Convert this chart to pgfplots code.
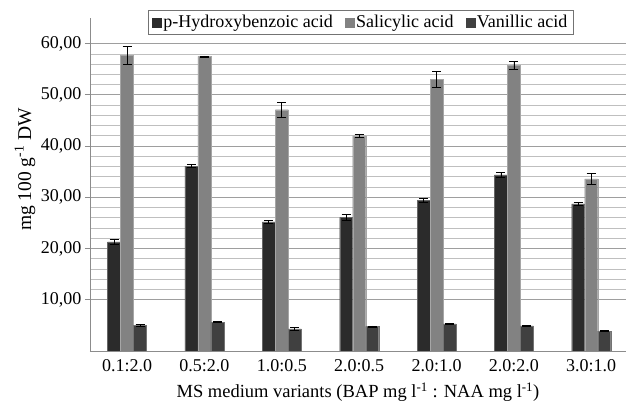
\documentclass[border=0pt]{standalone}
\usepackage{pgfplots}
\usepackage{pgfplotstable}
\pgfplotsset{compat=1.18}
\usepackage{fontspec}
\setmainfont{Liberation Serif}
\definecolor{cP}{HTML}{2B2B2B}
\definecolor{cS}{HTML}{828282}
\definecolor{cV}{HTML}{404040}
\pgfplotstableread{
x p perr s serr v verr
0 21.3 0.5 57.7 1.7 5.0 0.15
1 36.1 0.3 57.5 0.1 5.6 0.1
2 25.2 0.3 47.1 1.4 4.3 0.3
3 26.1 0.6 42.0 0.3 4.8 0.1
4 29.4 0.4 53.0 1.6 5.3 0.1
5 34.4 0.5 55.8 0.8 4.9 0.1
6 28.7 0.3 33.6 1.1 3.9 0.1
}\datatable
\begin{document}
\begin{tikzpicture}
\begin{axis}[
  width=536pt, height=333pt, scale only axis,
  ymin=0, ymax=65, xmin=-0.48, xmax=6.45,
  ybar=0pt, bar width=13pt,
  axis x line*=bottom, axis y line*=left,
  axis line style={black!45},
  xtick={0,...,6},
  xticklabels={0.1:2.0,0.5:2.0,1.0:0.5,2.0:0.5,2.0:1.0,2.0:2.0,3.0:1.0},
  xtick style={draw=none},
  ytick={10,20,...,60},
  minor y tick num=4,
  ymajorgrids, yminorgrids,
  major grid style={black!38, line width=0.7pt},
  minor grid style={black!25, line width=0.7pt},
  ytick style={black!45, line width=0.7pt},
  tick align=outside, major tick length=5pt, minor tick length=0pt,
  xticklabel style={font=\fontsize{18}{20}\selectfont},
  yticklabel style={font=\fontsize{18}{20}\selectfont, /pgf/number format/.cd, fixed, fixed zerofill, precision=2, use comma, assume math mode=true},
  /pgf/number format/assume math mode=true,
  ylabel={mg 100 g\textsuperscript{-1} DW},
  ylabel style={font=\fontsize{19.5}{21}\selectfont, at={(axis description cs:0,0.545)}, anchor=center, yshift=65pt},
  xlabel={MS medium variants (BAP mg l\textsuperscript{-1} : NAA mg l\textsuperscript{-1})},
  xlabel style={font=\fontsize{18.5}{21}\selectfont, at={(axis description cs:0.5,0)}, anchor=center, yshift=-41pt},
  legend columns=3,
  legend style={at={(0.505,1.024)}, anchor=north, draw=black!55, fill=white,
    font=\fontsize{18}{20}\selectfont, inner xsep=4pt, inner ysep=3pt,
    /tikz/every even column/.append style={column sep=10pt}},
  legend cell align=left,
  error bars/y dir=both, error bars/y explicit,
  error bars/error bar style={black, line width=0.7pt},
  error bars/error mark options={rotate=90, mark size=4.5pt, black, line width=0.7pt},
]
\addplot[fill=cP, draw=black!60, line width=0.3pt,
  legend image code/.code={\fill[cP] (0pt,-4.5pt) rectangle (9pt,4.5pt);}]
  table[x=x, y=p, y error=perr] {\datatable};
\addlegendentry{p-Hydroxybenzoic acid}
\addplot[fill=cS, draw=black!35, line width=0.3pt,
  legend image code/.code={\fill[cS] (0pt,-4.5pt) rectangle (9pt,4.5pt);}]
  table[x=x, y=s, y error=serr] {\datatable};
\addlegendentry{Salicylic acid}
\addplot[fill=cV, draw=black!55, line width=0.3pt,
  legend image code/.code={\fill[cV] (0pt,-4.5pt) rectangle (9pt,4.5pt);}]
  table[x=x, y=v, y error=verr] {\datatable};
\addlegendentry{Vanillic acid}
\coordinate (ll) at (rel axis cs:0,0);
\coordinate (ur) at (rel axis cs:1,1);
\end{axis}
\pgfresetboundingbox
\path ([shift={(-90pt,-51pt)}]ll) rectangle ([shift={(0pt,18pt)}]ur);
\end{tikzpicture}
\end{document}
